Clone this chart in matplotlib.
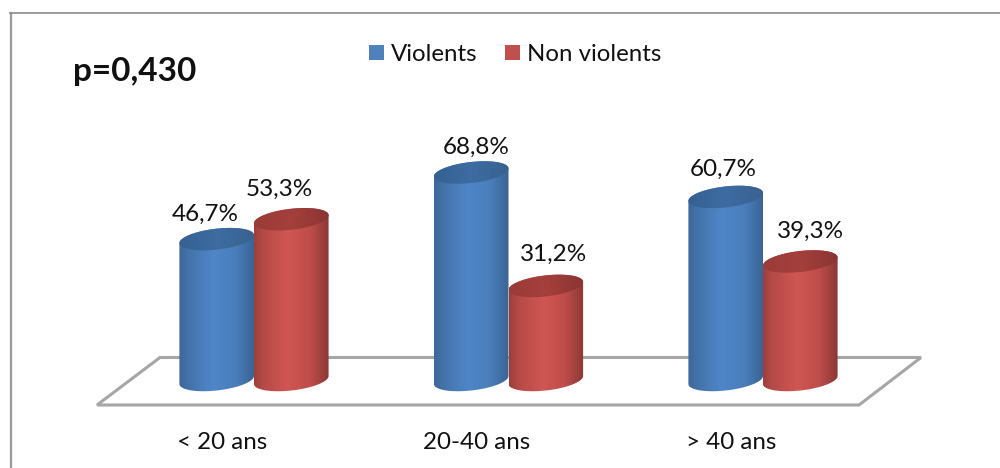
import matplotlib
matplotlib.use("Agg")
import matplotlib.pyplot as plt
from matplotlib.patches import Polygon, Rectangle
from matplotlib.colors import LinearSegmentedColormap
import numpy as np

categories = ["< 20 ans", "20-40 ans", "> 40 ans"]
violents = [46.7, 68.8, 60.7]
non_violents = [53.3, 31.2, 39.3]
labels_v = ["46,7%", "68,8%", "60,7%"]
labels_nv = ["53,3%", "31,2%", "39,3%"]
series_names = ["Violents", "Non violents"]
p_text = "p=0,430"

# label nudges in pixels, these were placed by hand in the original
offs_v = [(-11, 18), (5, 19), (-2, 21)]
offs_nv = [(-12, 23), (8, 25), (10, 24)]

plt.rcParams['font.family'] = ['Lato', 'DejaVu Sans']

W, H = 1000, 468
PX_PER_CAT = 254.5
PX_PER_UNIT = 3.016
X0_PX = 254
Y0_PX = 380
TXT = "#111111"

blue_cmap = LinearSegmentedColormap.from_list(
    "b", [(0, "#3c6797"), (0.12, "#4472a8"), (0.45, "#4f86c8"), (0.75, "#4a7ebb"), (1, "#3a6495")])
red_cmap = LinearSegmentedColormap.from_list(
    "r", [(0, "#9c3f3c"), (0.12, "#b54a47"), (0.45, "#cf5653"), (0.75, "#bf4d4a"), (1, "#8a3836")])
blue_top = LinearSegmentedColormap.from_list("bt", ["#356091", "#3e6ca2", "#38628f"])
red_top = LinearSegmentedColormap.from_list("rt", ["#9a3c39", "#a43f3c", "#8a3533"])

fig = plt.figure(figsize=(W / 100, H / 100), dpi=100)

# background layer in pixel coordinates
bg = fig.add_axes([0, 0, 1, 1])
bg.set_xlim(0, W)
bg.set_ylim(H, 0)
bg.axis("off")
bg.plot([11, 11], [H, 12.5], color="#9a9a9a", lw=1.6)
bg.plot([10, W], [12.5, 12.5], color="#8c8c8c", lw=1.2)
bg.add_patch(Polygon([(97, 405), (160, 357.5), (921, 357.5), (859, 405)], closed=True,
                     fc="white", ec="#a6a6a6", lw=2.2))

# chart layer: x in category units, y in percent
ax = fig.add_axes([0, 0, 1, 1])
ax.patch.set_alpha(0)
ax.axis("off")

half_w = 37.3 / PX_PER_CAT
ry = 10.5 / PX_PER_UNIT
tilt = 4.0 / PX_PER_UNIT
grad = np.linspace(0, 1, 256).reshape(1, -1)


def cylinder(xc, val, cmap, top_cmap, z):
    t = np.linspace(0, np.pi, 60)
    # tilted ellipse: right side sits a little higher than the left
    xs_top = xc + half_w * np.cos(t)
    ys_top = val + ry * np.sin(t) + tilt * np.cos(t)
    xs_bot = xc - half_w * np.cos(t)
    ys_bot = -ry * np.sin(t) - tilt * np.cos(t)
    body = Polygon(np.column_stack([np.r_[xs_top, xs_bot], np.r_[ys_top, ys_bot]]),
                   closed=True, fc="none", ec="none", zorder=z)
    ax.add_patch(body)
    im = ax.imshow(grad, cmap=cmap, aspect="auto", zorder=z,
                   extent=[xc - half_w, xc + half_w, -ry * 2, val + ry * 2])
    im.set_clip_path(body)
    t2 = np.linspace(0, 2 * np.pi, 120)
    top = Polygon(np.column_stack([xc + half_w * np.cos(t2),
                                   val + ry * np.sin(t2) + tilt * np.cos(t2)]),
                  closed=True, fc="none", ec="none", zorder=z + 0.1)
    ax.add_patch(top)
    im2 = ax.imshow(grad, cmap=top_cmap, aspect="auto", zorder=z + 0.1,
                    extent=[xc - half_w, xc + half_w, val - ry * 2, val + ry * 2])
    im2.set_clip_path(top)


for i in range(len(categories)):
    cylinder(i - half_w, violents[i], blue_cmap, blue_top, 3)
    cylinder(i + half_w, non_violents[i], red_cmap, red_top, 4)
    ax.annotate(labels_v[i], (i - half_w, violents[i]), xytext=offs_v[i], textcoords="offset pixels",
                ha="center", va="baseline", fontsize=17.5, color=TXT, zorder=6)
    ax.annotate(labels_nv[i], (i + half_w, non_violents[i]), xytext=offs_nv[i], textcoords="offset pixels",
                ha="center", va="baseline", fontsize=17.5, color=TXT, zorder=6)
    ax.annotate(categories[i], (i, 0), xytext=(-32, -69), textcoords="offset pixels",
                ha="center", va="baseline", fontsize=17.4, color=TXT)
ax.set_xlim(-X0_PX / PX_PER_CAT, (W - X0_PX) / PX_PER_CAT)
ax.set_ylim((Y0_PX - H) / PX_PER_UNIT, Y0_PX / PX_PER_UNIT)

# legend and p value
bg.add_patch(Rectangle((369, 45), 15, 15, fc="#4f81bd", ec="none"))
bg.text(391, 61, series_names[0], fontsize=17.3, color=TXT, va="baseline")
bg.add_patch(Rectangle((505, 45), 15, 15, fc="#c0504d", ec="none"))
bg.text(527, 61, series_names[1], fontsize=17.3, color=TXT, va="baseline")
bg.text(73, 81.5, p_text, fontsize=24, fontweight="bold", color=TXT, va="baseline")

fig.savefig("out.png", dpi=100)
